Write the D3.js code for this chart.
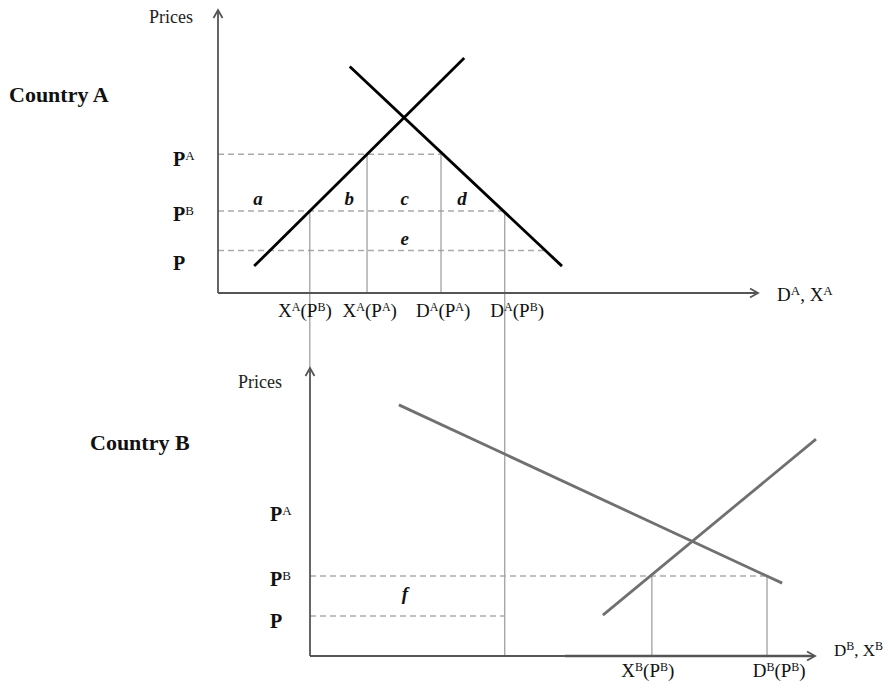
<!DOCTYPE html>
<html><head><meta charset="utf-8">
<script src="https://cdn.jsdelivr.net/npm/d3@7"></script>
<style>body{margin:0;background:#fff}svg{display:block}</style>
</head><body>
<svg id="c" width="887" height="687"></svg>
<script>
// ---------- DATA (abstract units, 0..100 on each axis) ----------
// Country A
const priceNames   = ["P^A", "P^B", "P"];
const pricesA      = [49, 29, 15];          // P^A, P^B, P
const supplyA      = [[6.7, 9.5], [45.6, 83]];
const demandA      = [[24.4, 80], [63.7, 9.5]];
const quantitiesA  = [17.0, 27.6, 41.3, 53.1]; // X^A(P^B), X^A(P^A), D^A(P^A), D^A(P^B)
const tickLabelsA  = ["X^A(P^B)", "X^A(P^A)", "D^A(P^A)", "D^A(P^B)"];
const tickPosA     = [16.1, 28.1, 41.7, 55.4];
const dashEndA     = [41.3, 53.1, 60.6];
const areaLabelsA  = ["a", "b", "c", "d", "e"];
const areaPosA     = [[7.4, 31.1], [24.3, 31.1], [34.6, 31.1], [45.2, 31.1], [34.6, 17.0]];
// Country B
const pricesB      = [49, 27.8, 13.9];
const demandB      = [[17.6, 87.2], [93.5, 25.3]];
const supplyB      = [[58.0, 14.2], [100.2, 75.3]];
const quantitiesB  = [67.7, 90.5];          // X^B(P^B), D^B(P^B)
const tickLabelsB  = ["X^B(P^B)", "D^B(P^B)"];
const tickPosB     = [66.9, 92.9];
const areaLabelsB  = ["f"];
const areaPosB     = [[18.8, 19.4]];

// ---------- SCALES ----------
const xA = d3.scaleLinear().domain([0, 100]).range([218, 758]);
const yA = d3.scaleLinear().domain([0, 100]).range([293, 10]);
const xB = d3.scaleLinear().domain([0, 100]).range([310, 815]);
const yB = d3.scaleLinear().domain([0, 100]).range([656, 368]);

const svg = d3.select("#c");
const SERIF = "'Liberation Serif','Times New Roman',Times,serif";
const line = (xs, ys) => d3.line().x(d => xs(d[0])).y(d => ys(d[1]));

// text with ^X superscripts
function richText(g, str, x, y, size, supSize, anchor, weight, supWeight) {
  const t = g.append("text").attr("x", x).attr("y", y)
    .attr("font-family", SERIF).attr("font-size", size)
    .attr("fill", "#111").attr("text-anchor", anchor || "start")
    .attr("font-weight", weight || "normal");
  const parts = str.split(/(\^.)/).filter(s => s.length);
  let raised = false;
  parts.forEach(p => {
    if (p[0] === "^") {
      t.append("tspan").attr("font-size", supSize).attr("dy", raised ? 0 : -6)
        .attr("font-weight", supWeight || "normal").text(p[1]);
      raised = true;
    } else {
      const s = t.append("tspan").text(p);
      if (raised) { s.attr("dy", 6); raised = false; }
    }
  });
  return t;
}

function axes(xs, ys, color) {
  const g = svg.append("g").attr("stroke", color).attr("fill", "none").attr("stroke-width", 1.8);
  const x0 = xs(0), y0 = ys(0), x1 = xs(100), y1 = ys(100);
  g.append("line").attr("x1", x0).attr("y1", y0).attr("x2", x0).attr("y2", y1);
  g.append("line").attr("x1", x0).attr("y1", y0).attr("x2", x1).attr("y2", y0);
  g.append("path").attr("d", `M${x0-4.5},${y1+8}L${x0},${y1}L${x0+4.5},${y1+8}`);
  g.append("path").attr("d", `M${x1-8},${y0-4.5}L${x1},${y0}L${x1-8},${y0+4.5}`);
}

// ---------- COUNTRY A ----------
// dashed price lines
svg.append("g").selectAll("line").data(pricesA).join("line")
  .attr("x1", xA(0)).attr("x2", (d, i) => xA(dashEndA[i]))
  .attr("y1", d => yA(d)).attr("y2", d => yA(d))
  .attr("stroke", "#aaa").attr("stroke-width", 1.5).attr("stroke-dasharray", "6,4");

// vertical quantity lines
const vEndA = [yB(100), yA(0), yA(0), yB(0)];
const vStartA = [pricesA[1], pricesA[0], pricesA[0], pricesA[1]];
svg.append("g").selectAll("line").data(quantitiesA).join("line")
  .attr("x1", d => xA(d)).attr("x2", d => xA(d))
  .attr("y1", (d, i) => yA(vStartA[i])).attr("y2", (d, i) => vEndA[i])
  .attr("stroke", "#999").attr("stroke-width", 1.2);

axes(xA, yA, "#555");

svg.append("path").datum(supplyA).attr("d", line(xA, yA))
  .attr("stroke", "#000").attr("stroke-width", 2.8).attr("fill", "none");
svg.append("path").datum(demandA).attr("d", line(xA, yA))
  .attr("stroke", "#000").attr("stroke-width", 2.8).attr("fill", "none");

const gt = svg.append("g");
gt.append("text").attr("x", 193).attr("y", 23).attr("text-anchor", "end")
  .attr("font-family", SERIF).attr("font-size", 18).attr("fill", "#222").text("Prices");
gt.append("text").attr("x", 9).attr("y", 102)
  .attr("font-family", SERIF).attr("font-size", 22).attr("font-weight", "bold").attr("fill", "#111").text("Country A");

const dyA = [12, 10, 19];
priceNames.forEach((n, i) => richText(gt, n, 173, yA(pricesA[i]) + dyA[i], 20, 13, "start", "bold"));

tickLabelsA.forEach((s, i) => richText(gt, s, xA(tickPosA[i]), 317, 19, 12, "middle"));
richText(gt, "D^A, X^A", 777, 301, 19, 13, "start");

areaLabelsA.forEach((s, i) => gt.append("text")
  .attr("x", xA(areaPosA[i][0])).attr("y", yA(areaPosA[i][1]))
  .attr("text-anchor", "middle").attr("font-family", SERIF).attr("font-size", 19)
  .attr("font-weight", "bold").attr("font-style", "italic").attr("fill", "#111").text(s));

// ---------- COUNTRY B ----------
const dashEndB = [null, xB(quantitiesB[1]), xA(quantitiesA[3])];
svg.append("g").selectAll("line").data(pricesB.slice(1)).join("line")
  .attr("x1", xB(0)).attr("x2", (d, i) => dashEndB[i + 1])
  .attr("y1", d => yB(d)).attr("y2", d => yB(d))
  .attr("stroke", "#aaa").attr("stroke-width", 1.5).attr("stroke-dasharray", "6,4");

svg.append("g").selectAll("line").data(quantitiesB).join("line")
  .attr("x1", d => xB(d)).attr("x2", d => xB(d))
  .attr("y1", yB(pricesB[1])).attr("y2", yB(0))
  .attr("stroke", "#999").attr("stroke-width", 1.2);

axes(xB, yB, "#555");
// heavier stretch of the B quantity axis
svg.append("line").attr("x1", xB(50.5)).attr("x2", xB(99)).attr("y1", yB(0)).attr("y2", yB(0))
  .attr("stroke", "#555").attr("stroke-width", 2.4);

svg.append("path").datum(demandB).attr("d", line(xB, yB))
  .attr("stroke", "#707070").attr("stroke-width", 2.8).attr("fill", "none");
svg.append("path").datum(supplyB).attr("d", line(xB, yB))
  .attr("stroke", "#707070").attr("stroke-width", 2.8).attr("fill", "none");

const gb = svg.append("g");
gb.append("text").attr("x", 282).attr("y", 388).attr("text-anchor", "end")
  .attr("font-family", SERIF).attr("font-size", 18).attr("fill", "#222").text("Prices");
gb.append("text").attr("x", 90).attr("y", 450)
  .attr("font-family", SERIF).attr("font-size", 22).attr("font-weight", "bold").attr("fill", "#111").text("Country B");

const dyB = [6, 10, 12];
priceNames.forEach((n, i) => richText(gb, n, 270, yB(pricesB[i]) + dyB[i], 20, 13, "start", "bold"));

tickLabelsB.forEach((s, i) => richText(gb, s, xB(tickPosB[i]), 677, 19, 12, "middle"));
richText(gb, "D^B, X^B", 834, 656, 17, 12, "start");

areaLabelsB.forEach((s, i) => gb.append("text")
  .attr("x", xB(areaPosB[i][0])).attr("y", yB(areaPosB[i][1]))
  .attr("text-anchor", "middle").attr("font-family", SERIF).attr("font-size", 19)
  .attr("font-weight", "bold").attr("font-style", "italic").attr("fill", "#111").text(s));
</script>
</body></html>
